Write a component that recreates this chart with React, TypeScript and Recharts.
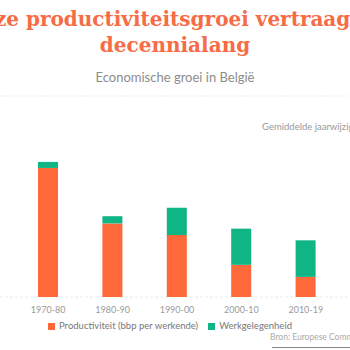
import { Bar, BarChart, CartesianGrid, Legend, XAxis, YAxis } from "recharts";

const periods = ["1970-80", "1980-90", "1990-00", "2000-10", "2010-19"];
const productiviteit = [3.21, 1.83, 1.54, 0.8, 0.5];
const werkgelegenheid = [0.15, 0.18, 0.68, 0.9, 0.91];
const yTicks = [0, 0.5, 1, 1.5, 2, 2.5, 3, 3.5, 4, 4.5, 5];

const data = periods.map((period, i) => ({
  period,
  productiviteit: productiviteit[i],
  werkgelegenheid: werkgelegenheid[i],
}));

const ORANGE = "#ff6838";
const GREEN = "#10b585";

export default function App() {
  return (
    <div
      style={{
        position: "fixed",
        left: 0,
        top: 0,
        width: 350,
        height: 350,
        overflow: "hidden",
        background: "#fff",
        fontFamily: "Lato, sans-serif",
      }}
    >
      <div
        style={{
          position: "absolute",
          left: -175,
          width: 700,
          top: 6,
          textAlign: "center",
          fontFamily: "'DejaVu Serif', serif",
          fontWeight: 700,
          fontSize: 20,
          lineHeight: "26px",
          color: "#f76b45",
          whiteSpace: "nowrap",
        }}
      >
        Onze productiviteitsgroei vertraagt al
        <br />
        decennialang
      </div>
      <div
        style={{
          position: "absolute",
          left: 0,
          width: 350,
          top: 69,
          textAlign: "center",
          fontSize: 13,
          color: "#8c8c8c",
        }}
      >
        Economische groei in België
      </div>
      <div
        style={{
          position: "absolute",
          left: 262,
          top: 121,
          fontSize: 9.5,
          color: "#999",
          whiteSpace: "nowrap",
        }}
      >
        Gemiddelde jaarwijziging (%)
      </div>
      <div style={{ position: "absolute", left: 0, top: 0 }}>
        <BarChart
          width={350}
          height={350}
          data={data}
          margin={{ top: 96, right: 0, bottom: 13, left: 0 }}
        >
          <CartesianGrid vertical={false} stroke="#ececec" strokeDasharray="3 2" />
          <XAxis
            dataKey="period"
            axisLine={false}
            tickLine={false}
            tick={{ fill: "#9a9a9a", fontSize: 9 }}
            tickMargin={4}
            height={20}
            padding={{ left: 16, right: 12 }}
          />
          <YAxis domain={[0, 5]} ticks={yTicks} width={0} tick={false} axisLine={false} tickLine={false} />
          <Legend
            verticalAlign="bottom"
            height={20}
            iconType="square"
            iconSize={7}
            wrapperStyle={{ fontSize: 9.5, color: "#777", bottom: 10 }}
            formatter={(value) => <span style={{ color: "#777" }}>{value}</span>}
          />
          <Bar
            dataKey="productiviteit"
            name="Productiviteit (bbp per werkende)"
            stackId="a"
            fill={ORANGE}
            barSize={20}
            isAnimationActive={false}
          />
          <Bar
            dataKey="werkgelegenheid"
            name="Werkgelegenheid"
            stackId="a"
            fill={GREEN}
            barSize={20}
            isAnimationActive={false}
          />
        </BarChart>
      </div>
      <div
        style={{
          position: "absolute",
          left: 270,
          top: 332,
          fontSize: 8.5,
          color: "#aaa",
          whiteSpace: "nowrap",
        }}
      >
        Bron: Europese Commissie
      </div>
      <div
        style={{
          position: "absolute",
          left: 272,
          top: 347,
          width: 100,
          height: 1,
          background: "#888",
        }}
      />
    </div>
  );
}
